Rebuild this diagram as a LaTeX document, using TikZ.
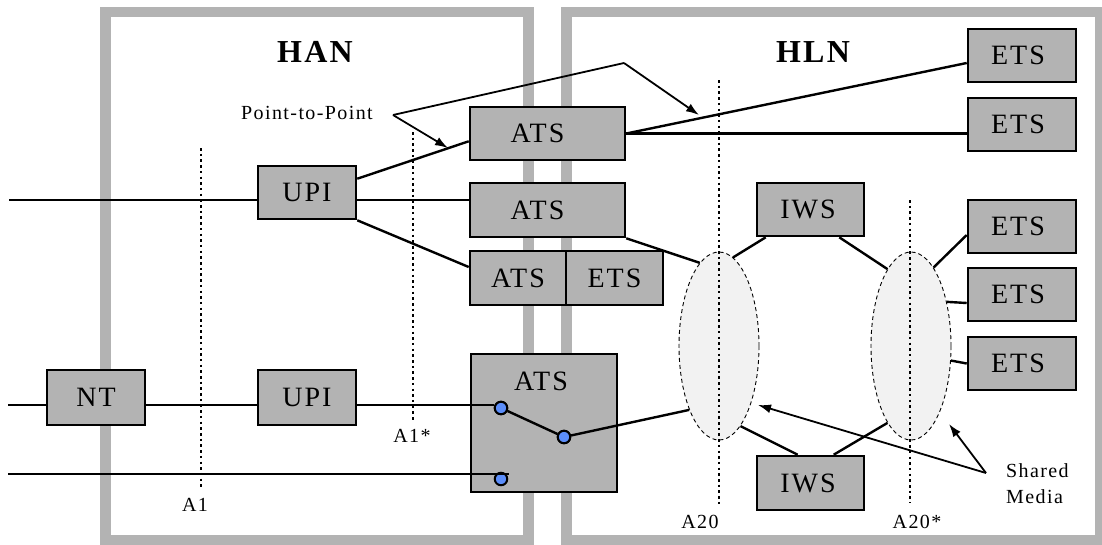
\documentclass[tikz,border=0pt]{standalone}
\usepackage{fontspec}
\setmainfont{Liberation Serif}
\newfontfamily\spacedfont{Liberation Serif}[LetterSpace=7]
\usetikzlibrary{shapes.geometric,arrows.meta,calc}
\definecolor{frameGray}{RGB}{179,179,179}
\definecolor{boxGray}{RGB}{179,179,179}
\definecolor{mediaGray}{RGB}{242,242,242}
\definecolor{swBlue}{RGB}{92,142,250}
\newcommand{\boxfont}{\spacedfont\fontsize{28}{30}\selectfont}
\newcommand{\titlefont}{\spacedfont\bfseries\fontsize{32}{36}\selectfont}
\newcommand{\lblfont}{\spacedfont\fontsize{20}{26}\selectfont}
\begin{document}
\begin{tikzpicture}[x=1pt,y=-1pt,
  frame/.style={draw=frameGray,line width=10.5pt},
  box/.style={draw=black,fill=boxGray,line width=2.6pt,inner sep=0pt,font=\boxfont},
  conn/.style={line width=2.4pt},
  guide/.style={line width=2.2pt,dash pattern=on 2.5pt off 3.2pt},
  media/.style={ellipse,draw=black,line width=0.9pt,dash pattern=on 4pt off 3pt,fill=mediaGray,inner sep=0pt,minimum width=80pt,minimum height=188pt},
  sw/.style={circle,draw=black,fill=swBlue,line width=2pt,inner sep=0pt,minimum size=12.5pt},
  lbl/.style={font=\lblfont,inner sep=0pt},
  ttl/.style={font=\titlefont,inner sep=0pt},
  arr/.style={line width=1.8pt,-{Latex[length=13pt,width=9pt]}}
]
\useasboundingbox (0,0) rectangle (1102,544);

% frames
\draw[frame] (105.5,12) rectangle (528.5,540);
\draw[frame] (566.5,12) rectangle (1100,540);

% titles
\node[ttl] (han) at (315,52) {HAN};
\node[ttl] (hln) at (813,52) {HLN};

% shared media ellipses
\node[media] (e1) at (719,346) {};
\node[media] (e2) at (911,346) {};

% reference point guides
\coordinate (a1t) at (201,148);  \coordinate (a1b) at (201,487);
\coordinate (a1st) at (413,132); \coordinate (a1sb) at (413,422);
\coordinate (a20t) at (719,80);  \coordinate (a20b) at (719,507);
\coordinate (a20st) at (910,200); \coordinate (a20sb) at (910,503);
\draw[guide] (a1t) -- (a1b);
\draw[guide] (a1st) -- (a1sb);
\draw[guide] (a20t) -- (a20b);
\draw[guide] (a20st) -- (a20sb);
\node[lbl] (la1) at (195,505) {A1};
\node[lbl] (la1s) at (412,436) {A1*};
\node[lbl] (la20) at (700,522) {A20};
\node[lbl] (la20s) at (917,522) {A20*};

% boxes
\node[box,minimum width=98pt,minimum height=53pt] (upi1) at (307,192.5) {UPI};
\node[box,minimum width=155pt,minimum height=53pt] (ats1) at (547.5,133.5) {ATS\kern20pt};
\node[box,minimum width=155pt,minimum height=54pt] (ats2) at (547.5,210) {ATS\kern20pt};
\node[box,minimum width=96pt,minimum height=54pt] (ats3) at (518,278) {ATS};
\node[box,minimum width=97pt,minimum height=54pt] (ets0) at (614.5,278) {ETS};
\node[box,minimum width=146pt,minimum height=138pt] (atsb) at (544,423) {};
\node[font=\boxfont,inner sep=0pt] (atsbt) at (541,381) {ATS};
\node[box,minimum width=98pt,minimum height=55pt] (nt) at (96,397.5) {NT};
\node[box,minimum width=98pt,minimum height=55pt] (upi2) at (307,397.5) {UPI};
\node[box,minimum width=108pt,minimum height=53pt] (ets1) at (1022,55.5) {ETS\kern8pt};
\node[box,minimum width=108pt,minimum height=53pt] (ets2) at (1022,124.5) {ETS\kern8pt};
\node[box,minimum width=108pt,minimum height=53pt] (ets3) at (1022,226.5) {ETS\kern8pt};
\node[box,minimum width=108pt,minimum height=53pt] (ets4) at (1022,294.5) {ETS\kern8pt};
\node[box,minimum width=108pt,minimum height=53pt] (ets5) at (1022,363.5) {ETS\kern8pt};
\node[box,minimum width=107pt,minimum height=53pt] (iws1) at (810.5,209.5) {IWS\kern5pt};
\node[box,minimum width=107pt,minimum height=54pt] (iws2) at (810.5,483) {IWS\kern5pt};

% connectors, upper UPI
\coordinate (in1) at (9,200);
\draw[conn] (in1) -- (in1 -| upi1.west);
\draw[conn] ([yshift=-14pt]upi1.north east) -- ([yshift=20pt]ats1.south west);
\draw[conn] (upi1.east |- in1) -- (ats2.west |- in1);
\draw[conn] (upi1.south east) -- ([yshift=11pt]ats3.west);

% ATS to ETS
\draw[conn] (ats1.east) -- ([yshift=-7.5pt]ets1.west);
\draw[conn] (ats1.east) -- (ats1.east -| ets2.west);

% to shared media
\draw[conn] (ats2.south east) -- (e1.103);
\draw[conn] ([xshift=10pt]iws1.south west) -- (e1.81);
\draw[conn] ([xshift=-26pt]iws1.south east) -- (e2.107);
\draw[conn] ([yshift=-8.5pt]ets3.west) -- (e2.74);
\draw[conn] ([yshift=-8.5pt]ets4.west) -- (e2.51);
\draw[conn] (ets5.west) -- (e2.340);
\draw[conn] ([xshift=42pt]iws2.north west) -- (e1.285);
\draw[conn] ([xshift=78pt]iws2.north west) -- (e2.253);

% lower path
\coordinate (in2) at (8,405);
\coordinate (in3) at (8,474);
\coordinate (in3e) at (509,474);
\node[sw] (s1) at (501,408) {};
\node[sw] (s2) at (564,437) {};
\node[sw] (s3) at (501,479) {};
\draw[conn] (in2) -- (in2 -| nt.west);
\draw[conn] (nt.east |- in2) -- (upi2.west |- in2);
\draw[conn] (upi2.east |- in2) -- (s1.west |- in2);
\draw[conn] (in3) -- (in3e);
\draw[conn] (s1) -- (s2);
\draw[conn] (s2) -- (e1.245);
\node[sw] at (s1) {};
\node[sw] at (s2) {};

% Point-to-Point annotation
\node[lbl] (ptp) at (307,113) {Point-to-Point};
\coordinate (ptpa) at (393,115);
\coordinate (ptpk) at (624,63);
\coordinate (ptpt) at (699,115);
\coordinate (ptpu) at (448,148);
\draw[line width=1.8pt] (ptpa) -- (ptpk);
\draw[arr] (ptpk) -- (ptpt);
\draw[arr] (ptpa) -- (ptpu);

% Shared Media annotation
\node[lbl,align=left,anchor=west] (sm) at (1006,483.5) {Shared\\Media};
\coordinate (sma) at (986,473);
\coordinate (smt1) at (758,405);
\coordinate (smt2) at (949,424);
\draw[arr] (sma) -- (smt1);
\draw[arr] (sma) -- (smt2);
\end{tikzpicture}
\end{document}
